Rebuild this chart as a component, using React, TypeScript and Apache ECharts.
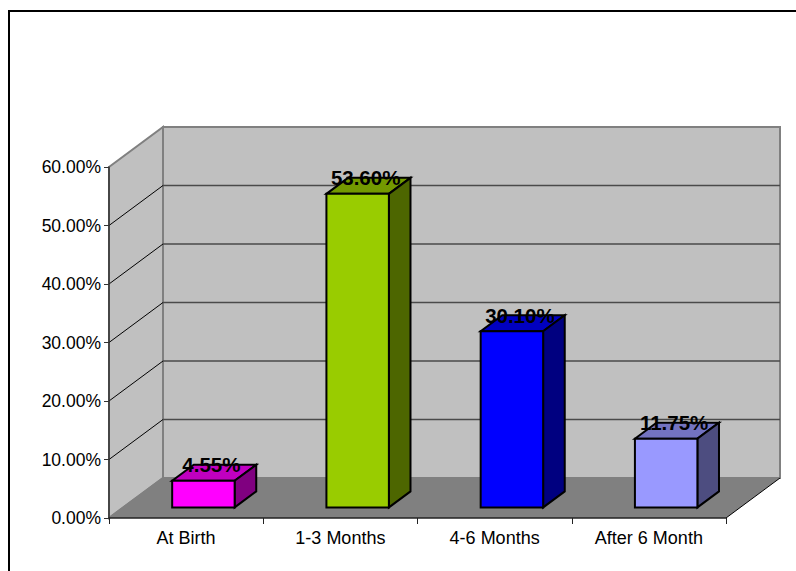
import React, { useEffect, useRef } from "react";
import * as echarts from "echarts";

const categories = ["At Birth", "1-3 Months", "4-6 Months", "After 6 Month"];
const shares = [4.55, 53.6, 30.1, 11.75];
const valueLabels = ["4.55%", "53.60%", "30.10%", "11.75%"];
const frontColors = ["#FF00FF", "#99CC00", "#0000FF", "#9999FF"];
const topColors = ["#C000C0", "#739900", "#0000C0", "#7373C0"];
const sideColors = ["#800080", "#4D6600", "#000080", "#4D4D80"];
const gridValues = [0, 10, 20, 30, 40, 50, 60];

// Oblique projection used for the box effect: floor depth in screen pixels.
const DEPTH_X = 54;
const DEPTH_Y = -40;
const BAR_START_X = 0.32;
const BAR_START_Y = 0.265;
const BAR_DEPTH = 0.4;
const BAR_WIDTH = 0.405;

const FONT = '"Liberation Sans", Arial, sans-serif';

function shift(p: number[], k: number) {
  return [p[0] + DEPTH_X * k, p[1] + DEPTH_Y * k];
}

function renderGridLine(params: any, api: any) {
  const cs = params.coordSys;
  const y = api.coord([0, api.value(1)])[1];
  const left = cs.x;
  const right = cs.x + cs.width;
  const children: any[] = [];
  if (api.value(1) > 0 && api.value(1) < 60) {
    children.push({
      type: "line",
      shape: { x1: left, y1: y, x2: left + DEPTH_X, y2: y + DEPTH_Y },
      style: { stroke: "#000000", lineWidth: 1 },
    });
    children.push({
      type: "line",
      shape: { x1: left + DEPTH_X, y1: y + DEPTH_Y, x2: right + DEPTH_X, y2: y + DEPTH_Y },
      style: { stroke: "#4a4a4a", lineWidth: 1.6 },
    });
  }
  return { type: "group", children };
}

function renderWalls(params: any, api: any) {
  const cs = params.coordSys;
  const a = [cs.x, cs.y + cs.height];
  const b = [cs.x + cs.width, cs.y + cs.height];
  const t = [cs.x, cs.y];
  const tr = [cs.x + cs.width, cs.y];
  const wall = { fill: "#C0C0C0", stroke: "#808080", lineWidth: 2 };
  return {
    type: "group",
    children: [
      { type: "polygon", shape: { points: [shift(t, 1), shift(tr, 1), shift(b, 1), shift(a, 1)] }, style: wall },
      { type: "polygon", shape: { points: [t, shift(t, 1), shift(a, 1), a] }, style: wall },
      { type: "polygon", shape: { points: [a, b, shift(b, 1), shift(a, 1)] }, style: { fill: "#808080" } },
      { type: "line", shape: { x1: a[0], y1: a[1], x2: shift(a, 1)[0], y2: shift(a, 1)[1] }, style: { stroke: "#808080", lineWidth: 2 } },
      { type: "line", shape: { x1: b[0], y1: b[1], x2: shift(b, 1)[0], y2: shift(b, 1)[1] }, style: { stroke: "#000000", lineWidth: 1 } },
    ],
  };
}

function renderBar(params: any, api: any) {
  const i = api.value(0);
  const band = api.size([1, 0])[0];
  const base = api.coord([i, 0]);
  const top = api.coord([i, api.value(1)]);
  const half = (band * BAR_WIDTH) / 2;
  const dx = DEPTH_X * BAR_START_X;
  const dy = DEPTH_Y * BAR_START_Y;
  const bl = [base[0] - half + dx, base[1] + dy];
  const br = [base[0] + half + dx, base[1] + dy];
  const tl = [top[0] - half + dx, top[1] + dy];
  const tr = [top[0] + half + dx, top[1] + dy];
  const edge = { stroke: "#000000", lineWidth: 2, lineJoin: "miter" };
  return {
    type: "group",
    children: [
      {
        type: "polygon",
        shape: { points: [tl, tr, shift(tr, BAR_DEPTH), shift(tl, BAR_DEPTH)] },
        style: { fill: topColors[i], ...edge },
      },
      {
        type: "polygon",
        shape: { points: [br, tr, shift(tr, BAR_DEPTH), shift(br, BAR_DEPTH)] },
        style: { fill: sideColors[i], ...edge },
      },
      {
        type: "polygon",
        shape: { points: [bl, br, tr, tl] },
        style: { fill: frontColors[i], ...edge },
      },
      {
        type: "text",
        z2: 100,
        style: {
          x: (tl[0] + tr[0]) / 2 + 8,
          y: tl[1] + DEPTH_Y * BAR_DEPTH,
          text: valueLabels[i],
          fill: "#000000",
          font: `bold 20.5px ${FONT}`,
          align: "center",
          verticalAlign: "middle",
        },
      },
    ],
  };
}

export default function App() {
  const ref = useRef<HTMLDivElement>(null);

  useEffect(() => {
    document.body.style.margin = "0";
    const chart = echarts.init(ref.current!, undefined, { renderer: "svg" });
    chart.setOption({
      animation: false,
      backgroundColor: "#FFFFFF",
      textStyle: { fontFamily: FONT },
      grid: { left: 109, top: 167, width: 617, height: 351 },
      graphic: [
        {
          type: "rect",
          shape: { x: 9, y: 11, width: 900, height: 700 },
          style: { fill: "transparent", stroke: "#000000", lineWidth: 2 },
          silent: true,
        },
      ],
      xAxis: {
        type: "category",
        data: categories,
        z: 5,
        axisLine: { show: true, lineStyle: { color: "#222222", width: 1.5 } },
        axisTick: { show: true, length: 6, alignWithLabel: false, lineStyle: { color: "#222222", width: 1 } },
        axisLabel: { color: "#000000", fontSize: 18, margin: 11, fontFamily: FONT, interval: 0 },
        splitLine: { show: false },
      },
      yAxis: {
        type: "value",
        min: 0,
        max: 60,
        interval: 10,
        z: 5,
        axisLine: { show: true, lineStyle: { color: "#333333", width: 1.5 } },
        axisTick: { show: true, length: 5, lineStyle: { color: "#333333", width: 1 } },
        axisLabel: {
          color: "#000000",
          fontSize: 17.5,
          margin: 8,
          fontFamily: FONT,
          formatter: (v: number) => `${v.toFixed(2)}%`,
        },
        splitLine: { show: false },
      },
      series: [
        {
          type: "custom",
          z: 1,
          silent: true,
          clip: false,
          renderItem: renderWalls,
          data: [[0, 0]],
        },
        {
          type: "custom",
          z: 2,
          silent: true,
          clip: false,
          renderItem: renderGridLine,
          data: gridValues.map((v) => [0, v]),
        },
        {
          type: "custom",
          z: 6,
          silent: true,
          clip: false,
          renderItem: renderBar,
          data: shares.map((v, i) => [i, v]),
        },
      ],
    });
    return () => chart.dispose();
  }, []);

  return <div ref={ref} style={{ width: 796, height: 571 }} />;
}
